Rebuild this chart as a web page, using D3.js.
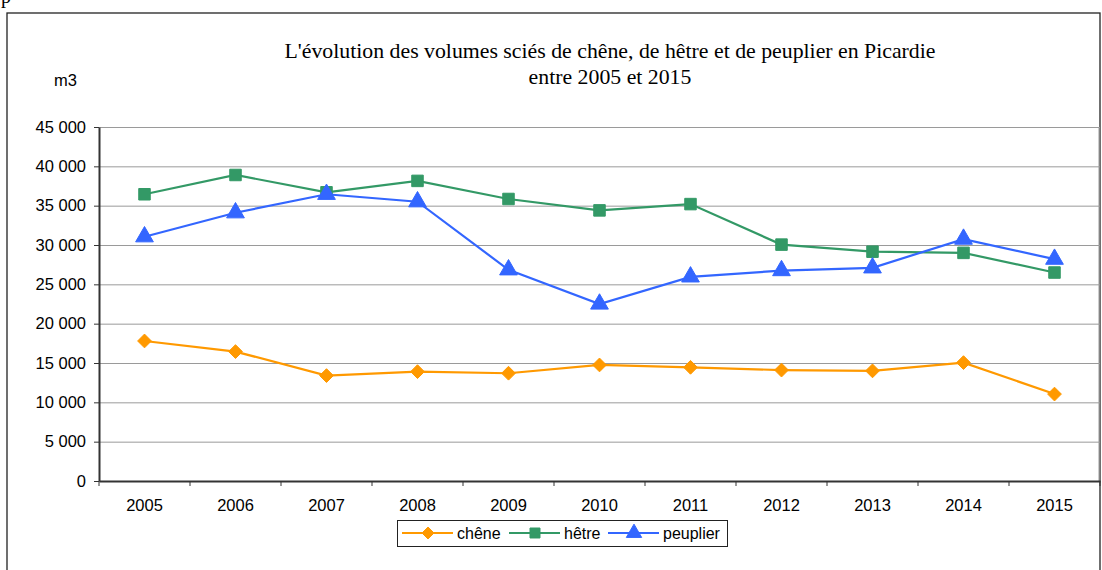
<!DOCTYPE html>
<html>
<head>
<meta charset="utf-8">
<script src="https://d3js.org/d3.v7.min.js"></script>
<style>
  body { margin: 0; background: #fff; }
  svg { display: block; }
</style>
</head>
<body>
<svg id="chart"></svg>
<script>
// data
const years = ["2005", "2006", "2007", "2008", "2009", "2010", "2011", "2012", "2013", "2014", "2015"];
const chene = [17800, 16450, 13400, 13900, 13700, 14750, 14450, 14100, 14000, 15050, 11050];
const hetre = [36450, 38900, 36700, 38150, 35850, 34400, 35200, 30050, 29150, 29000, 26500];
const peuplier = [31050, 34100, 36450, 35500, 26850, 22500, 25950, 26750, 27100, 30750, 28200];
const yTicks = [0, 5000, 10000, 15000, 20000, 25000, 30000, 35000, 40000, 45000];

const series = [
    { name: "chêne", values: chene, color: "#ff9900", symbol: d3.symbolDiamond2, size: 11 },
    { name: "hêtre", values: hetre, color: "#339966", symbol: d3.symbolSquare2, size: 13 },
    { name: "peuplier", values: peuplier, color: "#3366ff", symbol: d3.symbolTriangle2, size: 15 }
];

const width = 1102;
const height = 570;
const margin = ({ top: 127, right: 2, bottom: 89, left: 99 });
const sans = "Liberation Sans, Arial, sans-serif";

const fr = d3.formatLocale({ decimal: ",", thousands: "\u00a0", grouping: [3], currency: ["", " €"] });
const fmt = fr.format(",d");

// scales
let xScale = d3.scaleBand()
    .domain(years)
    .range([margin.left, width - margin.right])
    .padding(0);

let yScale = d3.scaleLinear()
    .domain([0, 45000])
    .range([height - margin.bottom, margin.top]);

const cx = d => xScale(d) + xScale.bandwidth() / 2;

const svg = d3.select("#chart")
    .attr("width", width)
    .attr("height", height)
    .attr("viewBox", [0, 0, width, height]);

// stray glyph at the very top left (cut off in the original too)
svg.append("text")
    .attr("x", 1).attr("y", 3)
    .attr("font-family", "Liberation Serif, serif")
    .attr("font-size", 20)
    .attr("fill", "#000")
    .text("p");

// outer frame
svg.append("rect")
    .attr("x", 7).attr("y", 13)
    .attr("width", 1093).attr("height", 570)
    .attr("fill", "none")
    .attr("stroke", "#222")
    .attr("stroke-width", 1.3);

// title
svg.append("g")
    .attr("font-family", "Liberation Serif, Times New Roman, serif")
    .attr("font-size", 21.8)
    .attr("fill", "#000")
    .attr("text-anchor", "middle")
    .selectAll("text")
    .data(["L'évolution des volumes sciés de chêne, de hêtre et de peuplier en Picardie", "entre 2005 et 2015"])
    .join("text")
    .attr("x", 610)
    .attr("y", (d, i) => 58 + i * 26)
    .text(d => d);

svg.append("text")
    .attr("x", 54).attr("y", 86)
    .attr("font-family", sans)
    .attr("font-size", 16.5)
    .text("m3");

// grid
svg.append("g")
    .selectAll("line")
    .data(yTicks.filter(d => d > 0))
    .join("line")
    .attr("x1", margin.left)
    .attr("x2", width - margin.right)
    .attr("y1", d => yScale(d) + 0.5)
    .attr("y2", d => yScale(d) + 0.5)
    .attr("stroke", "#9a9a9a")
    .attr("stroke-width", 1);

// right edge of plot
svg.append("line")
    .attr("x1", width - margin.right - 1).attr("x2", width - margin.right - 1)
    .attr("y1", margin.top).attr("y2", yScale(0))
    .attr("stroke", "#9a9a9a");

// y axis
const yAxis = g => g
    .attr("transform", `translate(${margin.left},0)`)
    .call(d3.axisLeft(yScale).tickValues(yTicks).tickSize(5).tickFormat(fmt).tickSizeOuter(0))
    .call(g => g.selectAll(".domain").attr("stroke", "#333").attr("stroke-width", 2))
    .call(g => g.selectAll(".tick line").attr("stroke", "#333"))
    .call(g => g.selectAll(".tick text")
        .attr("x", -13)
        .attr("font-family", sans)
        .attr("font-size", 16.5)
        .attr("fill", "#000"));

svg.append("g").call(yAxis);

// x axis: labels in band centres, ticks on band edges
const xAxis = g => g
    .attr("transform", `translate(0,${yScale(0)})`)
    .call(d3.axisBottom(xScale).tickSize(0).tickSizeOuter(0))
    .call(g => g.select(".domain").attr("stroke", "#333").attr("stroke-width", 2))
    .call(g => g.selectAll(".tick text")
        .attr("y", 18)
        .attr("font-family", sans)
        .attr("font-size", 16.5)
        .attr("fill", "#000"));

svg.append("g").call(xAxis);

svg.append("g")
    .selectAll("line")
    .data(years.map(d => xScale(d)).concat([xScale.range()[1]]))
    .join("line")
    .attr("x1", d => d).attr("x2", d => d)
    .attr("y1", yScale(0)).attr("y2", yScale(0) + 5)
    .attr("stroke", "#333");

// series lines and markers
const line = d3.line()
    .x((d, i) => cx(years[i]))
    .y(d => yScale(d));

series.forEach(s => {
    svg.append("path")
        .datum(s.values)
        .attr("fill", "none")
        .attr("stroke", s.color)
        .attr("stroke-width", 2.2)
        .attr("d", line);
});

series.forEach(s => {
    svg.append("g")
        .selectAll("path")
        .data(s.values)
        .join("path")
        .attr("transform", (d, i) => `translate(${cx(years[i])},${yScale(d)})`)
        .attr("d", d3.symbol(s.symbol, s.size * s.size))
        .attr("fill", s.color)
        .attr("stroke", s.color)
        .attr("stroke-width", 1);
});

// legend
const legend = svg.append("g");
legend.append("rect")
    .attr("x", 397.5).attr("y", 520.5)
    .attr("width", 330).attr("height", 26)
    .attr("fill", "#fff")
    .attr("stroke", "#222");

const legendX = [402, 509, 608];
series.forEach((s, i) => {
    const x0 = legendX[i];
    legend.append("line")
        .attr("x1", x0).attr("x2", x0 + 51)
        .attr("y1", 533).attr("y2", 533)
        .attr("stroke", s.color)
        .attr("stroke-width", 2.2);
    legend.append("path")
        .attr("transform", `translate(${x0 + 26},533)`)
        .attr("d", d3.symbol(s.symbol, s.size * s.size * 0.75))
        .attr("fill", s.color)
        .attr("stroke", s.color);
    legend.append("text")
        .attr("x", x0 + 55).attr("y", 538.5)
        .attr("font-family", sans)
        .attr("font-size", 16)
        .text(s.name);
});
</script>
</body>
</html>
